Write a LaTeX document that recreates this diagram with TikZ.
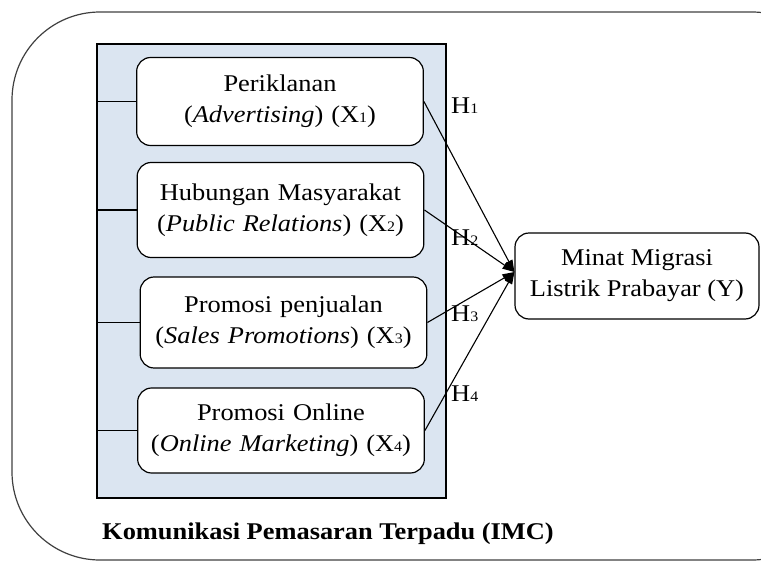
\documentclass[tikz,border=0pt]{standalone}
\usepackage{fontspec}
\setmainfont{Liberation Serif}[FakeStretch=1.1]
\usetikzlibrary{arrows.meta, positioning}
\definecolor{imcblue}{HTML}{DBE5F1}
\definecolor{framegray}{HTML}{404040}
\newcommand{\lowidx}[1]{{\fontsize{14.5}{14.5}\selectfont #1}}

\begin{document}
\begin{tikzpicture}[x=1pt, y=-1pt,
        every node/.style={font=\fontsize{24}{31}\selectfont},
        frame/.style={draw=framegray, line width=1.2pt, rounded corners=88pt},
        imcarea/.style={rectangle, draw, fill=imcblue, line width=1.3pt, minimum width=349pt, minimum height=454pt},
        varbox/.style={rectangle, draw, rounded corners=14pt, fill=white, align=center, text width=280pt, minimum height=88pt, line width=1.2pt},
        ybox/.style={rectangle, draw, rounded corners=14pt, fill=white, align=center, minimum width=244pt, minimum height=86pt, line width=1.2pt},
        hyp/.style={draw, -{Triangle[length=12pt, width=8pt]}, line width=1.1pt},
        tick/.style={draw, line width=1.2pt}
        ]
        \useasboundingbox (0,0) rectangle (761,562);
        \begin{scope}
            \clip (0,0) rectangle (761,562);
            \draw [frame] (12,12) rectangle (840,560);
        \end{scope}

        % Nodes
        \node (imc) [imcarea] at (271.5,271) {};
        \node (x1) [varbox] at (280,101.5) {Periklanan\\(\textit{Advertising}) (X\lowidx{1})};
        \node (x2) [varbox, minimum height=95pt] at (280.5,210) {Hubungan Masyarakat\\(\textit{Public Relations}) (X\lowidx{2})};
        \node (x3) [varbox, minimum height=91pt] at (283.5,322.5) {Promosi penjualan\\(\textit{Sales Promotions}) (X\lowidx{3})};
        \node (x4) [varbox, minimum height=85pt] at (281,430.5) {Promosi Online\\(\textit{Online Marketing}) (X\lowidx{4})};
        \node (y) [ybox] at (637,276) {Minat Migrasi\\Listrik Prabayar (Y)};
        \node (imclabel) at (328,534) {\textbf{Komunikasi Pemasaran Terpadu (IMC)}};

        \node (h1) [anchor=west, inner sep=0pt] at (451,106) {H\lowidx{1}};
        \node (h2) [anchor=west, inner sep=0pt] at (451,238) {H\lowidx{2}};
        \node (h3) [anchor=west, inner sep=0pt] at (451,314) {H\lowidx{3}};
        \node (h4) [anchor=west, inner sep=0pt] at (451,394) {H\lowidx{4}};

        \coordinate (tip) at ([yshift=4pt]y.west);

        % Ticks from the IMC area
        \foreach \v in {x1,x2,x3,x4}
            \draw [tick] (\v.west -| imc.west) -- (\v.west);

        % Arrows
        \draw [hyp] (x1.east) -- (tip);
        \draw [hyp] (x2.east) -- (tip);
        \draw [hyp] (x3.east) -- (tip);
        \draw [hyp] (x4.east) -- (tip);

    \end{tikzpicture}
\end{document}
